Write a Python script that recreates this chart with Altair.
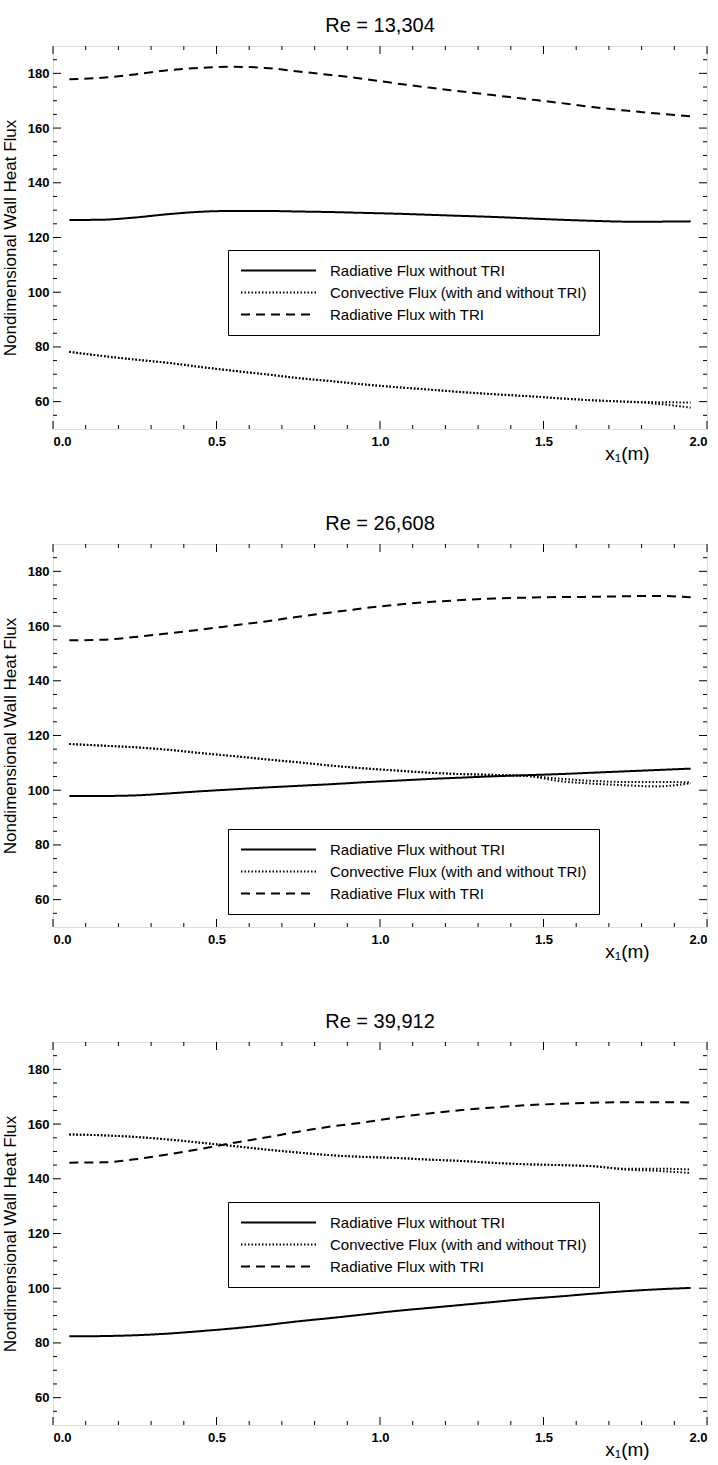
import altair as alt
import pandas as pd

# ---------------- data ----------------
X = [0.05, 0.15, 0.25, 0.35, 0.45, 0.55, 0.65, 0.75, 0.85, 0.95,
     1.05, 1.15, 1.25, 1.35, 1.45, 1.55, 1.65, 1.75, 1.85, 1.95]

TITLES = ["Re = 13,304", "Re = 26,608", "Re = 39,912"]
KINDS = ["Radiative Flux without TRI",
         "Convective Flux (with and without TRI)",
         "Radiative Flux with TRI"]

# Re = 13,304
P1_RAD_NO = [126.4, 126.5, 127.3, 128.5, 129.4, 129.7, 129.7, 129.5, 129.3, 129.0,
             128.7, 128.3, 127.9, 127.5, 127.0, 126.5, 126.1, 125.8, 125.8, 125.9]
P1_CONV_A = [78.2, 76.7, 75.4, 74.2, 72.7, 71.3, 70.0, 68.6, 67.5, 66.3,
             65.3, 64.4, 63.5, 62.7, 62.0, 61.2, 60.5, 60.0, 59.8, 59.7]
P1_CONV_B = [78.2, 76.7, 75.4, 74.2, 72.7, 71.3, 70.0, 68.6, 67.5, 66.3,
             65.3, 64.4, 63.5, 62.7, 62.0, 61.2, 60.5, 60.0, 59.2, 57.8]
P1_RAD_TRI = [177.8, 178.4, 179.6, 181.1, 182.0, 182.4, 182.0, 180.7, 179.4, 178.0,
              176.3, 174.8, 173.4, 172.0, 170.6, 169.2, 167.7, 166.4, 165.3, 164.3]

# Re = 26,608
P2_RAD_NO = [97.9, 97.9, 98.1, 98.8, 99.6, 100.3, 101.0, 101.6, 102.2, 102.9,
             103.5, 104.1, 104.6, 105.1, 105.5, 105.9, 106.4, 106.9, 107.4, 107.9]
P2_CONV_A = [116.9, 116.3, 115.7, 114.8, 113.6, 112.5, 111.3, 110.2, 109.0, 108.0,
             107.2, 106.4, 105.9, 105.6, 105.2, 104.2, 103.4, 103.0, 103.0, 102.9]
P2_CONV_B = [116.9, 116.3, 115.7, 114.8, 113.6, 112.5, 111.3, 110.2, 109.0, 108.0,
             107.2, 106.4, 105.9, 105.6, 105.2, 103.3, 102.4, 101.8, 101.4, 102.6]
P2_RAD_TRI = [154.8, 155.0, 156.0, 157.3, 158.7, 160.2, 161.7, 163.4, 165.0, 166.5,
              167.8, 168.8, 169.5, 170.1, 170.4, 170.6, 170.7, 170.9, 171.0, 170.5]

# Re = 39,912
P3_RAD_NO = [82.4, 82.5, 82.8, 83.4, 84.3, 85.3, 86.5, 87.9, 89.1, 90.4,
             91.7, 92.8, 93.9, 95.0, 96.1, 97.0, 98.0, 98.9, 99.6, 100.1]
P3_CONV_A = [156.2, 155.9, 155.3, 154.4, 153.2, 152.0, 150.7, 149.6, 148.6, 148.0,
             147.6, 147.0, 146.5, 145.8, 145.3, 145.0, 144.6, 143.7, 143.7, 143.4]
P3_CONV_B = [156.2, 155.9, 155.3, 154.4, 153.2, 152.0, 150.7, 149.6, 148.6, 148.0,
             147.6, 147.0, 146.5, 145.8, 145.3, 145.0, 144.6, 143.4, 142.9, 142.1]
P3_RAD_TRI = [145.9, 146.0, 147.1, 148.9, 150.9, 153.1, 155.1, 157.2, 159.1, 160.6,
              162.4, 163.9, 165.1, 166.1, 166.9, 167.4, 167.8, 168.0, 168.0, 167.9]

X_MAJOR = [0.0, 0.5, 1.0, 1.5, 2.0]
X_MINOR = [0.1, 0.2, 0.3, 0.4, 0.6, 0.7, 0.8, 0.9, 1.1, 1.2, 1.3, 1.4,
           1.6, 1.7, 1.8, 1.9]
Y_MAJOR = [60, 80, 100, 120, 140, 160, 180]
Y_MINOR = [55, 65, 70, 75, 85, 90, 95, 105, 110, 115, 125, 130, 135,
           145, 150, 155, 165, 170, 175, 185]

LEGEND_POS = [(175, 204), (175, 285), (175, 160)]

# ---------------- style ----------------
W, H = 654, 383
FONT_N = "Liberation Sans Narrow, Liberation Sans, Arial, sans-serif"
FONT = "Liberation Sans, Arial, sans-serif"

xs = alt.Scale(domain=[0, 2], nice=False, zero=False)
ys = alt.Scale(domain=[50, 190], nice=False, zero=False)

xaxis = alt.Axis(values=X_MAJOR, format=".1f", ticks=False, domain=False, grid=False,
                 labelFont=FONT_N, labelFontSize=13, labelFontWeight="bold",
                 labelColor="black", labelPadding=6,
                 title="x\u2081(m)", titleFont=FONT_N, titleFontSize=19,
                 titleFontWeight="normal", titleColor="black",
                 titleX=574, titleY=15)
yaxis = alt.Axis(values=Y_MAJOR, ticks=False, domain=False, grid=False,
                 labelFont=FONT_N, labelFontSize=13, labelFontWeight="bold",
                 labelColor="black", labelPadding=4,
                 title="Nondimensional Wall Heat Flux", titleFont=FONT,
                 titleFontSize=17, titleFontWeight="normal", titleColor="black",
                 titlePadding=8)


def panel_df(rad_no, conv_a, conv_b, rad_tri):
    rows = []
    for series, kind, vals in [("rad_no", KINDS[0], rad_no),
                               ("conv_a", KINDS[1], conv_a),
                               ("conv_b", KINDS[1], conv_b),
                               ("rad_tri", KINDS[2], rad_tri)]:
        for xv, yv in zip(X, vals):
            rows.append({"x": xv, "y": yv, "series": series, "kind": kind})
    return pd.DataFrame(rows)


def tick_layers():
    layers = []
    for vals, ln in [(X_MAJOR, 8), (X_MINOR, 4)]:
        d = pd.DataFrame({"x": vals})
        base = alt.Chart(d).mark_rule(color="black", strokeWidth=1)
        layers.append(base.encode(x=alt.X("x:Q", scale=xs, axis=xaxis),
                                  y=alt.value(H), y2=alt.value(H - ln)))
        layers.append(base.encode(x=alt.X("x:Q", scale=xs, axis=xaxis),
                                  y=alt.value(0), y2=alt.value(ln)))
    for vals, ln in [(Y_MAJOR, 8), (Y_MINOR, 4)]:
        d = pd.DataFrame({"y": vals})
        base = alt.Chart(d).mark_rule(color="black", strokeWidth=1)
        layers.append(base.encode(y=alt.Y("y:Q", scale=ys, axis=yaxis),
                                  x=alt.value(0), x2=alt.value(ln)))
        layers.append(base.encode(y=alt.Y("y:Q", scale=ys, axis=yaxis),
                                  x=alt.value(W), x2=alt.value(W - ln)))
    return layers


def panel(title, df, lx, ly):
    lines = alt.Chart(df).mark_line(color="black", strokeWidth=2,
                                    interpolate="monotone").encode(
        x=alt.X("x:Q", scale=xs, axis=xaxis),
        y=alt.Y("y:Q", scale=ys, axis=yaxis),
        strokeDash=alt.StrokeDash(
            "kind:N",
            scale=alt.Scale(domain=KINDS, range=[[1, 0], [1.5, 2], [9, 6]]),
            legend=alt.Legend(title=None, orient="none", legendX=lx, legendY=ly,
                              strokeColor="black", fillColor="white", padding=12,
                              symbolType="M-1,0H9", symbolSize=225,
                              symbolStrokeWidth=2, symbolStrokeColor="black",
                              labelFont=FONT_N, labelFontSize=15,
                              labelColor="black", labelOffset=73,
                              rowPadding=5, labelLimit=400)),
        detail="series:N",
        order="x:Q",
    )
    return alt.layer(lines, *tick_layers()).properties(
        width=W, height=H,
        title=alt.Title(title, font=FONT_N, fontSize=20, fontWeight="normal",
                        color="black", offset=10))


dfs = [panel_df(P1_RAD_NO, P1_CONV_A, P1_CONV_B, P1_RAD_TRI),
       panel_df(P2_RAD_NO, P2_CONV_A, P2_CONV_B, P2_RAD_TRI),
       panel_df(P3_RAD_NO, P3_CONV_A, P3_CONV_B, P3_RAD_TRI)]

chart = alt.vconcat(
    *[panel(t, d, lx, ly) for t, d, (lx, ly) in zip(TITLES, dfs, LEGEND_POS)],
    spacing=49,
).resolve_legend(strokeDash="independent").resolve_scale(
    strokeDash="independent"
).configure_view(stroke="black", strokeWidth=1.5).configure(
    padding={"left": 0, "top": 15, "right": 0, "bottom": 0},
    background="white",
)

chart.save("out.html", embed_options={"renderer": "svg", "actions": False})
